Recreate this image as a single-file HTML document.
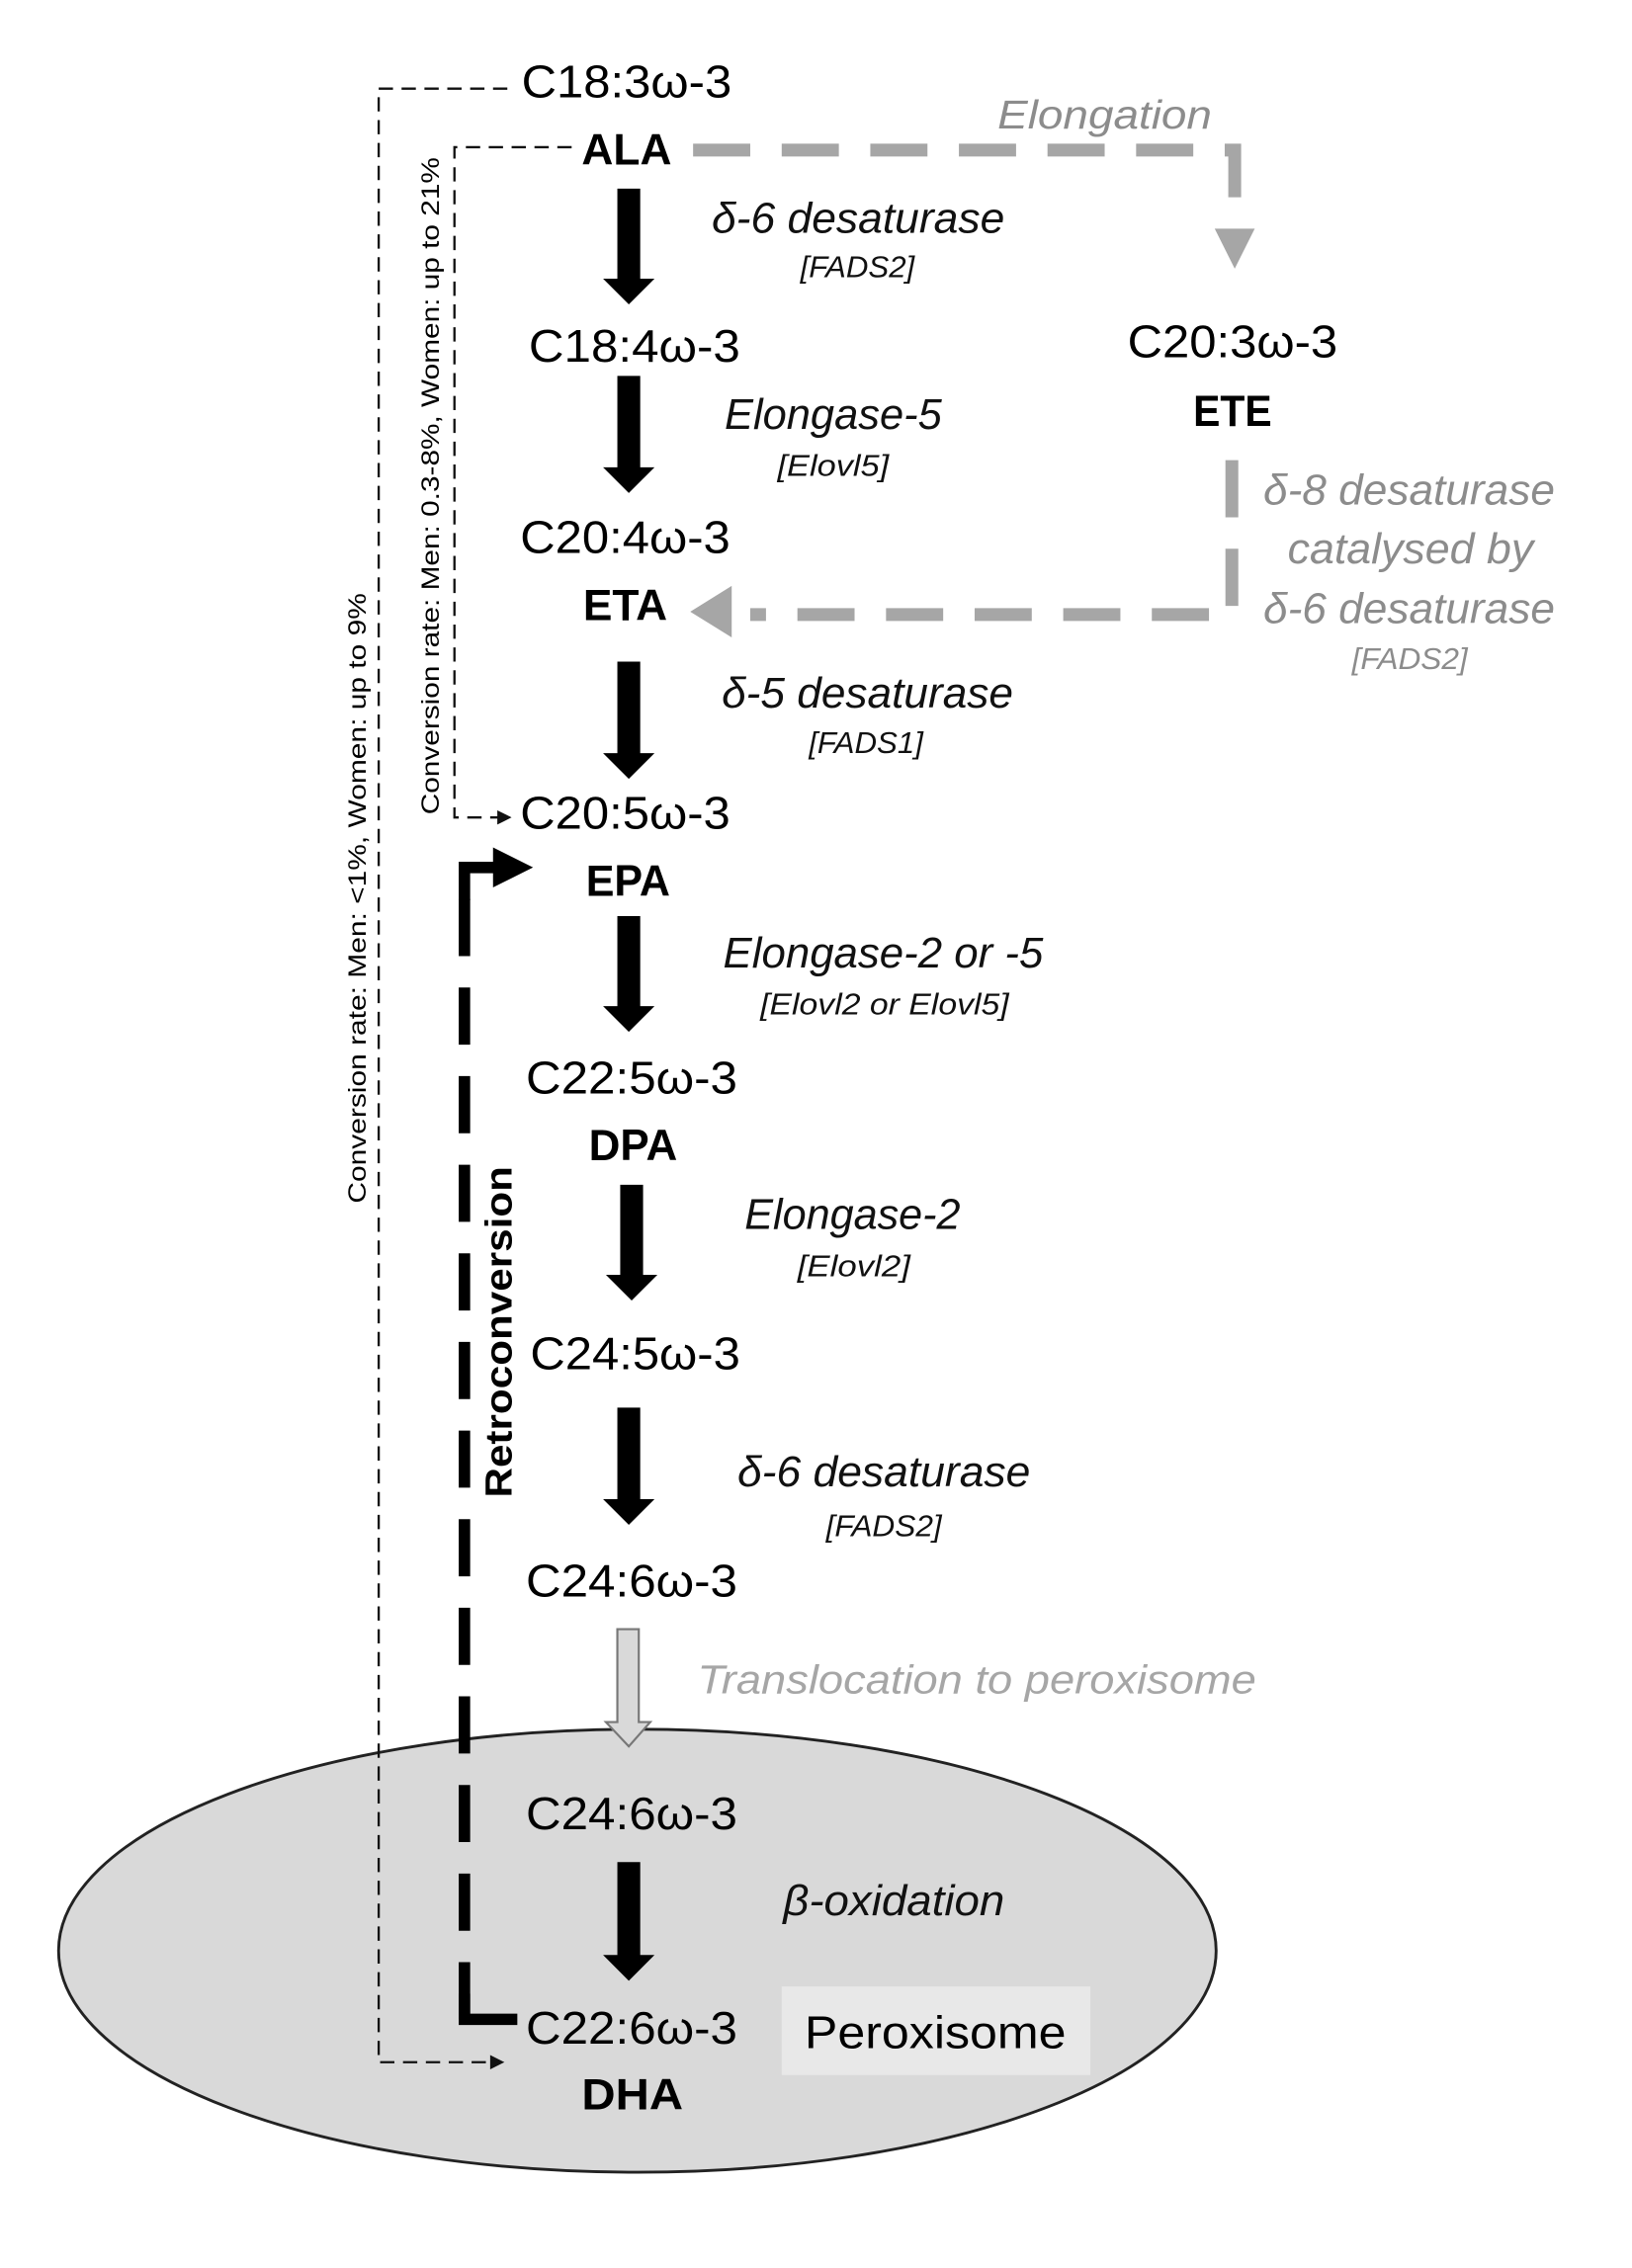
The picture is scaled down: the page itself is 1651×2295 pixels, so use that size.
<!DOCTYPE html>
<html><head><meta charset="utf-8"><style>
html,body{margin:0;padding:0;background:#fff;}
svg{display:block;}
text{font-family:"Liberation Sans","DejaVu Sans",sans-serif;}
</style></head><body>
<svg width="1651" height="2295" viewBox="0 0 1142 1587" preserveAspectRatio="none" xmlns="http://www.w3.org/2000/svg">
<rect width="1142" height="1587" fill="#fff"/>
<!-- peroxisome ellipse -->
<ellipse cx="446" cy="1365" rx="405" ry="155" fill="#d9d9d9" stroke="#222" stroke-width="2"/>
<rect x="547" y="1390" width="216" height="62" fill="#e8e8e8"/>
<text x="563" y="1433" font-size="32" textLength="183" lengthAdjust="spacingAndGlyphs">Peroxisome</text>

<!-- thin dashed conversion lines -->
<path d="M355 62 H265 V1443 H345" fill="none" stroke="#111" stroke-width="1.6" stroke-dasharray="10,6"/>
<polygon points="343,1438 353,1443 343,1448" fill="#111"/>
<path d="M400 103 H318 V572 H350" fill="none" stroke="#111" stroke-width="1.6" stroke-dasharray="10,6"/>
<polygon points="348,567 358,572 348,577" fill="#111"/>
<text transform="translate(256,842) rotate(-90)" font-size="17" textLength="427" lengthAdjust="spacingAndGlyphs">Conversion rate: Men: &lt;1%, Women: up to 9%</text>
<text transform="translate(307,570) rotate(-90)" font-size="17" textLength="460" lengthAdjust="spacingAndGlyphs">Conversion rate: Men: 0.3-8%, Women: up to 21%</text>

<!-- gray elongation path -->
<path d="M485 105 H864 V145" fill="none" stroke="#a6a6a6" stroke-width="9" stroke-dasharray="40,22"/>
<polygon points="850,160 878,160 864,188" fill="#a6a6a6"/>
<text x="698" y="90" font-size="28" font-style="italic" fill="#8c8c8c" textLength="150" lengthAdjust="spacingAndGlyphs">Elongation</text>
<path d="M862 322 V430 H525" fill="none" stroke="#a6a6a6" stroke-width="9" stroke-dasharray="40,22"/>
<polygon points="483,428 512,410 512,446" fill="#a6a6a6"/>
<g fill="#8c8c8c" font-style="italic">
<text x="884" y="353" font-size="30" textLength="204" lengthAdjust="spacingAndGlyphs">δ-8 desaturase</text>
<text x="901" y="394" font-size="30" textLength="172" lengthAdjust="spacingAndGlyphs">catalysed by</text>
<text x="884" y="436" font-size="30" textLength="204" lengthAdjust="spacingAndGlyphs">δ-6 desaturase</text>
<text x="946" y="468" font-size="21" textLength="81" lengthAdjust="spacingAndGlyphs">[FADS2]</text>
</g>

<!-- retroconversion -->
<path d="M325 1413 V612" fill="none" stroke="#000" stroke-width="8" stroke-dasharray="40,22"/>
<path d="M321 1413 H362" stroke="#000" stroke-width="8"/>
<path d="M325 1413 V1395" stroke="#000" stroke-width="8"/>
<path d="M325 630 V607 H348" fill="none" stroke="#000" stroke-width="8"/>
<polygon points="345,593 373,607 345,621" fill="#000"/>
<text transform="translate(358,1048) rotate(-90)" font-size="26" font-weight="bold" textLength="232" lengthAdjust="spacingAndGlyphs">Retroconversion</text>

<!-- black arrows -->
<g fill="#000">
<polygon points="432,132 448,132 448,195 458,195 440,213 422,195 432,195"/>
<polygon points="432,263 448,263 448,327 458,327 440,345 422,327 432,327"/>
<polygon points="432,463 448,463 448,527 458,527 440,545 422,527 432,527"/>
<polygon points="432,641 448,641 448,704 458,704 440,722 422,704 432,704"/>
<polygon points="434,829 450,829 450,892 460,892 442,910 424,892 434,892"/>
<polygon points="432,985 448,985 448,1049 458,1049 440,1067 422,1049 432,1049"/>
<polygon points="432,1303 448,1303 448,1368 458,1368 440,1386 422,1368 432,1368"/>
</g>
<polygon points="432,1140 447,1140 447,1205 455,1205 440,1222 424,1205 432,1205" fill="#d9d9d9" stroke="#777" stroke-width="1.5"/>
<text x="488" y="1185" font-size="28" font-style="italic" fill="#a6a6a6" textLength="391" lengthAdjust="spacingAndGlyphs">Translocation to peroxisome</text>

<!-- nodes -->
<g font-size="32" fill="#000">
<text x="365" y="68" textLength="147" lengthAdjust="spacingAndGlyphs">C18:3ω-3</text>
<text x="370" y="253" textLength="148" lengthAdjust="spacingAndGlyphs">C18:4ω-3</text>
<text x="364" y="387" textLength="147" lengthAdjust="spacingAndGlyphs">C20:4ω-3</text>
<text x="789" y="250" textLength="147" lengthAdjust="spacingAndGlyphs">C20:3ω-3</text>
<text x="364" y="580" textLength="147" lengthAdjust="spacingAndGlyphs">C20:5ω-3</text>
<text x="368" y="765" textLength="148" lengthAdjust="spacingAndGlyphs">C22:5ω-3</text>
<text x="371" y="958" textLength="147" lengthAdjust="spacingAndGlyphs">C24:5ω-3</text>
<text x="368" y="1117" textLength="148" lengthAdjust="spacingAndGlyphs">C24:6ω-3</text>
<text x="368" y="1280" textLength="148" lengthAdjust="spacingAndGlyphs">C24:6ω-3</text>
<text x="368" y="1430" textLength="148" lengthAdjust="spacingAndGlyphs">C22:6ω-3</text>
</g>
<g font-size="31" font-weight="bold" fill="#000">
<text x="407" y="115" textLength="63" lengthAdjust="spacingAndGlyphs">ALA</text>
<text x="408" y="434" textLength="59" lengthAdjust="spacingAndGlyphs">ETA</text>
<text x="835" y="298" textLength="55" lengthAdjust="spacingAndGlyphs">ETE</text>
<text x="410" y="627" textLength="59" lengthAdjust="spacingAndGlyphs">EPA</text>
<text x="412" y="812" textLength="62" lengthAdjust="spacingAndGlyphs">DPA</text>
<text x="407" y="1476" textLength="71" lengthAdjust="spacingAndGlyphs">DHA</text>
</g>

<!-- enzymes -->
<g font-style="italic" fill="#111">
<text x="498" y="163" font-size="30" textLength="205" lengthAdjust="spacingAndGlyphs">δ-6 desaturase</text>
<text x="560" y="194" font-size="21" textLength="80" lengthAdjust="spacingAndGlyphs">[FADS2]</text>
<text x="507" y="300" font-size="30" textLength="152" lengthAdjust="spacingAndGlyphs">Elongase-5</text>
<text x="544" y="333" font-size="21" textLength="78" lengthAdjust="spacingAndGlyphs">[Elovl5]</text>
<text x="505" y="495" font-size="30" textLength="204" lengthAdjust="spacingAndGlyphs">δ-5 desaturase</text>
<text x="566" y="527" font-size="21" textLength="80" lengthAdjust="spacingAndGlyphs">[FADS1]</text>
<text x="506" y="677" font-size="30" textLength="224" lengthAdjust="spacingAndGlyphs">Elongase-2 or -5</text>
<text x="532" y="710" font-size="21" textLength="174" lengthAdjust="spacingAndGlyphs">[Elovl2 or Elovl5]</text>
<text x="521" y="860" font-size="30" textLength="151" lengthAdjust="spacingAndGlyphs">Elongase-2</text>
<text x="558" y="893" font-size="21" textLength="79" lengthAdjust="spacingAndGlyphs">[Elovl2]</text>
<text x="516" y="1040" font-size="30" textLength="205" lengthAdjust="spacingAndGlyphs">δ-6 desaturase</text>
<text x="578" y="1075" font-size="21" textLength="81" lengthAdjust="spacingAndGlyphs">[FADS2]</text>
<text x="548" y="1340" font-size="30" textLength="155" lengthAdjust="spacingAndGlyphs">β-oxidation</text>
</g>
</svg>
</body></html>
